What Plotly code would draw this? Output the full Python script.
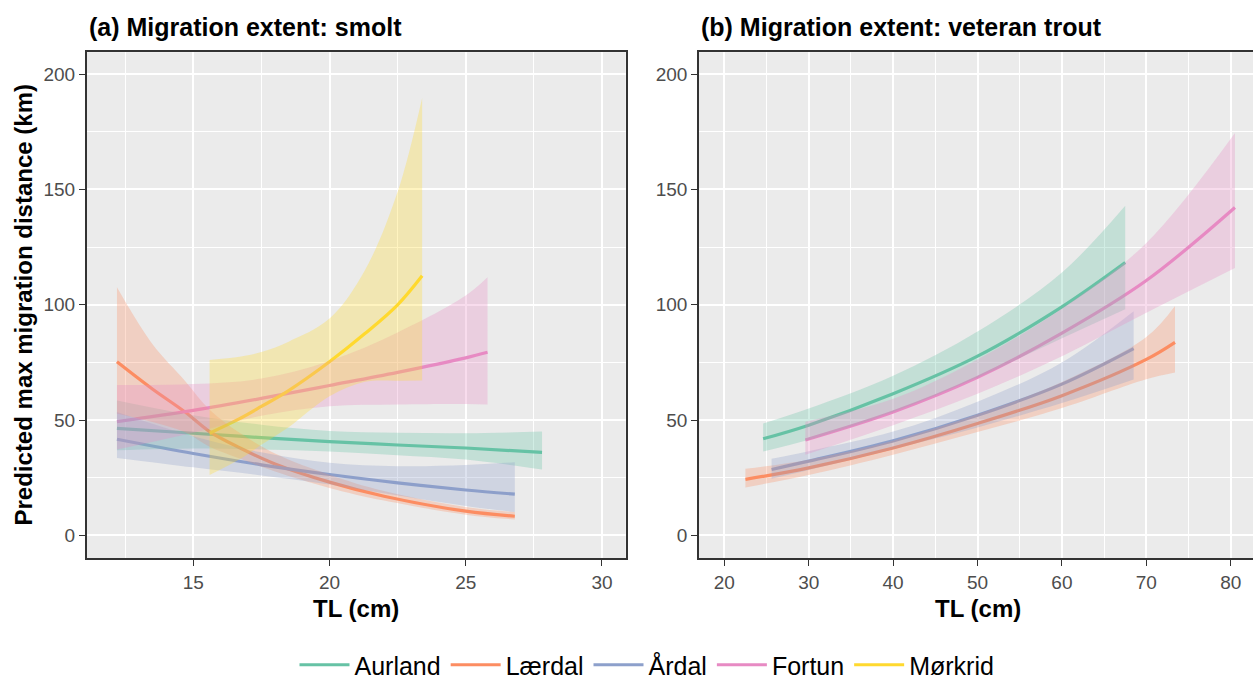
import plotly.graph_objects as go

# ---------------- data ----------------
sites = ["Aurland", "Lærdal", "Årdal", "Fortun", "Mørkrid"]
colors = ["#66C2A5", "#FC8D62", "#8DA0CB", "#E78AC3", "#FFD92F"]

# (a) smolt
aur_s_x = [12.2, 15.0, 17.5, 20.0, 22.5, 25.0, 27.8]
aur_s_fit = [46.4, 44.3, 42.4, 40.7, 39.2, 37.9, 36.0]
aur_s_lo = [36.9, 37.7, 37.3, 36.4, 34.8, 32.9, 28.6]
aur_s_hi = [58.5, 52.1, 48.0, 45.3, 44.5, 44.3, 45.0]

lae_s_x = [12.2, 13.5, 14.7, 15.6, 16.7, 18.0, 20.0, 22.0, 25.0, 26.8]
lae_s_fit = [75.3, 63.5, 53.5, 45.0, 38.0, 31.0, 23.1, 17.0, 10.5, 8.3]
lae_s_lo = [52.7, 49.2, 44.7, 38.4, 33.3, 27.7, 20.6, 15.1, 9.0, 6.9]
lae_s_hi = [107.6, 83.0, 67.0, 54.5, 44.5, 35.5, 26.3, 19.2, 12.3, 10.1]

ard_s_x = [12.2, 15.0, 17.5, 20.0, 22.5, 25.0, 26.8]
ard_s_fit = [41.7, 35.5, 30.6, 26.4, 22.8, 19.7, 17.9]
ard_s_lo = [33.6, 29.5, 26.0, 22.1, 17.3, 12.8, 10.1]
ard_s_hi = [53.5, 43.0, 36.0, 31.5, 30.0, 30.5, 31.7]

for_s_x = [12.2, 15.0, 17.5, 20.0, 22.5, 25.0, 25.8]
for_s_fit = [49.3, 54.2, 59.4, 65.0, 70.7, 77.0, 79.4]
for_s_lo = [37.2, 44.5, 51.9, 56.0, 56.8, 57.0, 56.8]
for_s_hi = [65.2, 65.6, 68.0, 75.6, 88.0, 104.0, 111.9]

mor_s_x = [15.6, 16.7, 17.5, 18.5, 20.0, 21.3, 22.5, 23.4]
mor_s_fit = [44.3, 50.6, 55.9, 62.8, 75.3, 87.5, 100.0, 112.6]
mor_s_lo = [26.2, 33.0, 39.3, 46.9, 60.3, 66.6, 67.1, 67.2]
mor_s_hi = [76.1, 77.5, 79.5, 84.0, 94.0, 115.0, 149.0, 189.7]

# (b) veteran trout
aur_v_x = [24.6, 30.0, 40.0, 50.0, 60.0, 67.5]
aur_v_fit = [41.9, 47.8, 61.4, 77.7, 99.1, 118.3]
aur_v_lo = [36.4, 41.5, 53.5, 68.5, 85.5, 98.1]
aur_v_hi = [48.5, 55.0, 69.2, 88.4, 114.0, 142.9]

lae_v_x = [22.5, 30.0, 40.0, 50.0, 60.0, 70.0, 73.4]
lae_v_fit = [24.3, 29.3, 37.9, 48.5, 60.6, 76.3, 83.7]
lae_v_lo = [20.8, 26.2, 35.0, 44.8, 55.2, 67.7, 70.6]
lae_v_hi = [28.9, 32.8, 41.0, 52.5, 66.5, 86.0, 99.5]

ard_v_x = [25.6, 30.0, 40.0, 50.0, 60.0, 68.5]
ard_v_fit = [28.6, 32.2, 41.0, 52.1, 65.6, 81.0]
ard_v_lo = [24.6, 28.4, 37.4, 46.8, 57.4, 67.6]
ard_v_hi = [33.2, 36.5, 45.0, 58.0, 75.0, 97.2]

for_v_x = [29.6, 40.0, 50.0, 60.0, 70.0, 80.5]
for_v_fit = [41.4, 53.5, 68.5, 87.7, 110.5, 142.2]
for_v_lo = [35.0, 47.8, 61.4, 77.7, 96.5, 115.9]
for_v_hi = [49.3, 59.2, 76.3, 98.4, 126.8, 174.5]

y_ticks = [0, 50, 100, 150, 200]
panel_titles = ["(a) Migration extent: smolt", "(b) Migration extent: veteran trout"]
x_title = "TL (cm)"
y_title = "Predicted max migration distance (km)"

smolt = [
    (aur_s_x, aur_s_fit, aur_s_lo, aur_s_hi),
    (lae_s_x, lae_s_fit, lae_s_lo, lae_s_hi),
    (ard_s_x, ard_s_fit, ard_s_lo, ard_s_hi),
    (for_s_x, for_s_fit, for_s_lo, for_s_hi),
    (mor_s_x, mor_s_fit, mor_s_lo, mor_s_hi),
]
veteran = [
    (aur_v_x, aur_v_fit, aur_v_lo, aur_v_hi),
    (lae_v_x, lae_v_fit, lae_v_lo, lae_v_hi),
    (ard_v_x, ard_v_fit, ard_v_lo, ard_v_hi),
    (for_v_x, for_v_fit, for_v_lo, for_v_hi),
    None,
]


def rgba(hexcol, a):
    h = hexcol.lstrip("#")
    r, g, b = int(h[0:2], 16), int(h[2:4], 16), int(h[4:6], 16)
    return f"rgba({r},{g},{b},{a})"


FONT = "Liberation Sans, Arial, Helvetica, sans-serif"
fig = go.Figure()

# lines first (ggplot draws ribbons over them)
for panel, (data, xa, ya) in enumerate([(smolt, "x", "y"), (veteran, "x2", "y2")]):
    for i, d in enumerate(data):
        if d is None:
            continue
        xs, fit, lo, hi = d
        fig.add_trace(go.Scatter(
            x=xs, y=fit, mode="lines", name=sites[i], legendgroup=sites[i],
            showlegend=(panel == 0), xaxis=xa, yaxis=ya,
            line=dict(color=colors[i], width=3.2, shape="spline", smoothing=1.0),
            hoverinfo="skip"))

# ribbons
for panel, (data, xa, ya) in enumerate([(smolt, "x", "y"), (veteran, "x2", "y2")]):
    for i, d in enumerate(data):
        if d is None:
            continue
        xs, fit, lo, hi = d
        fig.add_trace(go.Scatter(
            x=xs, y=lo, mode="lines", showlegend=False, legendgroup=sites[i],
            xaxis=xa, yaxis=ya, line=dict(width=0, shape="spline", color=rgba(colors[i], 0)),
            hoverinfo="skip"))
        fig.add_trace(go.Scatter(
            x=xs, y=hi, mode="lines", showlegend=False, legendgroup=sites[i],
            xaxis=xa, yaxis=ya, fill="tonexty", fillcolor=rgba(colors[i], 0.3),
            line=dict(width=0, shape="spline", color=rgba(colors[i], 0)),
            hoverinfo="skip"))

W, H = 1253, 688
y_dom = [(H - 566.7) / H, (H - 53) / H]
x1_dom = [86.7 / W, 625.7 / W]
x2_dom = [699 / W, 1.0]

axis_common = dict(
    showgrid=True, gridcolor="white", gridwidth=1.5,
    zeroline=False, showline=True, linecolor="#333333", linewidth=1.6,
    ticks="outside", ticklen=6, tickwidth=1.4, tickcolor="#333333",
    tickfont=dict(family=FONT, size=19, color="#4D4D4D"),
)

fig.update_layout(
    width=W, height=H, margin=dict(l=0, r=0, t=0, b=0),
    paper_bgcolor="white", plot_bgcolor="#EBEBEB",
    font=dict(family=FONT),
    xaxis=dict(domain=x1_dom, range=[11.09, 30.87], tick0=0, dtick=5, anchor="y",
               mirror=True, minor=dict(dtick=2.5, tick0=0, showgrid=True, gridcolor="white", gridwidth=0.7),
               **axis_common),
    yaxis=dict(domain=y_dom, range=[-10, 209.5], tickvals=y_ticks, anchor="x",
               mirror=True, minor=dict(dtick=25, tick0=0, showgrid=True, gridcolor="white", gridwidth=0.7),
               **axis_common),
    xaxis2=dict(domain=x2_dom, range=[17.0, 82.64], tick0=0, dtick=10, anchor="y2",
                mirror=True, minor=dict(dtick=5, tick0=0, showgrid=True, gridcolor="white", gridwidth=0.7),
                **axis_common),
    yaxis2=dict(domain=y_dom, range=[-10, 209.5], tickvals=y_ticks, anchor="x2",
                mirror=False, minor=dict(dtick=25, tick0=0, showgrid=True, gridcolor="white", gridwidth=0.7),
                **axis_common),
    legend=dict(orientation="h", x=647 / W, xanchor="center", y=(H - 675) / H, yanchor="middle",
                font=dict(family=FONT, size=25, color="black"), bgcolor="rgba(0,0,0,0)",
                itemwidth=50, tracegroupgap=0),
    showlegend=True,
)

ann = []
ann.append(dict(text=f"<b>{panel_titles[0]}</b>", x=86.7 / W, y=(H - 27) / H, xref="paper", yref="paper",
                xanchor="left", yanchor="middle", showarrow=False,
                font=dict(family=FONT, size=25, color="black")))
ann.append(dict(text=f"<b>{panel_titles[1]}</b>", x=699 / W, y=(H - 27) / H, xref="paper", yref="paper",
                xanchor="left", yanchor="middle", showarrow=False,
                font=dict(family=FONT, size=25, color="black")))
ann.append(dict(text=f"<b>{y_title}</b>", x=23 / W, y=(H - 310) / H, xref="paper", yref="paper",
                xanchor="center", yanchor="middle", textangle=-90, showarrow=False,
                font=dict(family=FONT, size=24, color="black")))
ann.append(dict(text=f"<b>{x_title}</b>", x=356.2 / W, y=(H - 617) / H, xref="paper", yref="paper",
                xanchor="center", yanchor="middle", showarrow=False,
                font=dict(family=FONT, size=24, color="black")))
ann.append(dict(text=f"<b>{x_title}</b>", x=977.5 / W, y=(H - 617) / H, xref="paper", yref="paper",
                xanchor="center", yanchor="middle", showarrow=False,
                font=dict(family=FONT, size=24, color="black")))
fig.update_layout(annotations=ann)

fig.write_html("out.html", config={"displayModeBar": False})
